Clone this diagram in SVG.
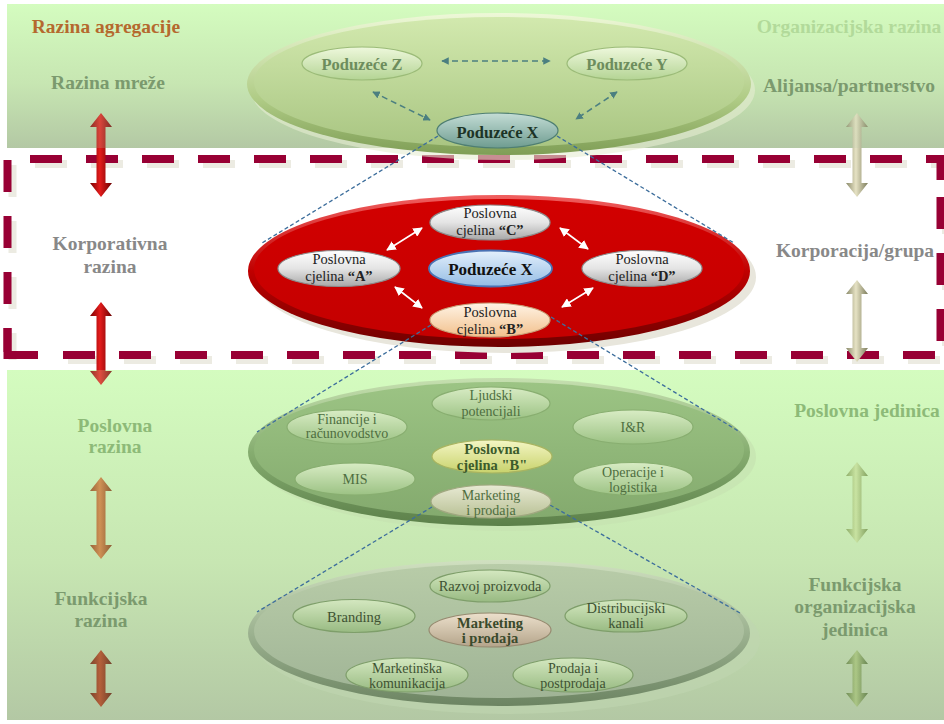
<svg xmlns="http://www.w3.org/2000/svg" width="944" height="724" viewBox="0 0 944 724">
  <defs>
    <linearGradient id="band" x1="0" y1="0" x2="0" y2="1">
      <stop offset="0" stop-color="#d4fcbf"/>
      <stop offset="0.55" stop-color="#c7e6b2"/>
      <stop offset="1" stop-color="#b3c8a4"/>
    </linearGradient>
    <!-- big ellipse rims and interiors -->
    <linearGradient id="topRim" x1="0" y1="0" x2="0" y2="1">
      <stop offset="0" stop-color="#eef8d8"/>
      <stop offset="0.6" stop-color="#b0cc86"/>
      <stop offset="1" stop-color="#7f9e56"/>
    </linearGradient>
    <linearGradient id="topFill" x1="0" y1="0" x2="0" y2="1">
      <stop offset="0" stop-color="#d2e9ae"/>
      <stop offset="1" stop-color="#a9c582"/>
    </linearGradient>
    <linearGradient id="redRim" x1="0" y1="0" x2="0" y2="1">
      <stop offset="0" stop-color="#f06060"/>
      <stop offset="0.5" stop-color="#c00000"/>
      <stop offset="1" stop-color="#6e0000"/>
    </linearGradient>
    <linearGradient id="redFill" x1="0" y1="0" x2="0" y2="1">
      <stop offset="0" stop-color="#d20000"/>
      <stop offset="1" stop-color="#c40000"/>
    </linearGradient>
    <linearGradient id="grnRim" x1="0" y1="0" x2="0" y2="1">
      <stop offset="0" stop-color="#c6e0b0"/>
      <stop offset="0.5" stop-color="#86ad70"/>
      <stop offset="1" stop-color="#5c804a"/>
    </linearGradient>
    <linearGradient id="grnFill" x1="0" y1="0" x2="0" y2="1">
      <stop offset="0" stop-color="#9cc484"/>
      <stop offset="1" stop-color="#84aa6e"/>
    </linearGradient>
    <linearGradient id="botRim" x1="0" y1="0" x2="0" y2="1">
      <stop offset="0" stop-color="#d0e0c0"/>
      <stop offset="0.5" stop-color="#9cb290"/>
      <stop offset="1" stop-color="#6c8462"/>
    </linearGradient>
    <linearGradient id="botFill" x1="0" y1="0" x2="0" y2="1">
      <stop offset="0" stop-color="#b8cca8"/>
      <stop offset="1" stop-color="#a0b496"/>
    </linearGradient>
    <!-- small node fills -->
    <linearGradient id="nTopG" x1="0" y1="0" x2="0" y2="1">
      <stop offset="0" stop-color="#eef8dc"/>
      <stop offset="1" stop-color="#b4d494"/>
    </linearGradient>
    <linearGradient id="nTeal" x1="0" y1="0" x2="0" y2="1">
      <stop offset="0" stop-color="#c4ddd6"/>
      <stop offset="1" stop-color="#6e9c90"/>
    </linearGradient>
    <linearGradient id="nGrey" x1="0" y1="0" x2="0" y2="1">
      <stop offset="0" stop-color="#ffffff"/>
      <stop offset="0.5" stop-color="#e4e4e4"/>
      <stop offset="1" stop-color="#a8a8a8"/>
    </linearGradient>
    <linearGradient id="nBlue" x1="0" y1="0" x2="0" y2="1">
      <stop offset="0" stop-color="#e4f0fc"/>
      <stop offset="1" stop-color="#94bce4"/>
    </linearGradient>
    <linearGradient id="nPeach" x1="0" y1="0" x2="0" y2="1">
      <stop offset="0" stop-color="#fff4e6"/>
      <stop offset="1" stop-color="#f2c08c"/>
    </linearGradient>
    <linearGradient id="nGreen" x1="0" y1="0" x2="0" y2="1">
      <stop offset="0" stop-color="#d8ecc4"/>
      <stop offset="1" stop-color="#9cc284"/>
    </linearGradient>
    <linearGradient id="nYellow" x1="0" y1="0" x2="0" y2="1">
      <stop offset="0" stop-color="#f4f6c4"/>
      <stop offset="1" stop-color="#c8d26c"/>
    </linearGradient>
    <linearGradient id="nTan" x1="0" y1="0" x2="0" y2="1">
      <stop offset="0" stop-color="#e8ead4"/>
      <stop offset="1" stop-color="#b8c094"/>
    </linearGradient>
    <linearGradient id="nGreen2" x1="0" y1="0" x2="0" y2="1">
      <stop offset="0" stop-color="#d4e8c0"/>
      <stop offset="1" stop-color="#98ba82"/>
    </linearGradient>
    <linearGradient id="nBrown" x1="0" y1="0" x2="0" y2="1">
      <stop offset="0" stop-color="#ece0cc"/>
      <stop offset="1" stop-color="#b4a48a"/>
    </linearGradient>
    <!-- side arrow fills -->
    <linearGradient id="aRed" x1="0" y1="0" x2="1" y2="0">
      <stop offset="0" stop-color="#7a0000"/>
      <stop offset="0.45" stop-color="#e41c1c"/>
      <stop offset="1" stop-color="#6a0000"/>
    </linearGradient>
    <linearGradient id="aOrange" x1="0" y1="0" x2="1" y2="0">
      <stop offset="0" stop-color="#8a3c14"/>
      <stop offset="0.45" stop-color="#d0783a"/>
      <stop offset="1" stop-color="#7a3410"/>
    </linearGradient>
    <linearGradient id="aDark" x1="0" y1="0" x2="1" y2="0">
      <stop offset="0" stop-color="#6a1c08"/>
      <stop offset="0.45" stop-color="#b4401c"/>
      <stop offset="1" stop-color="#5c1806"/>
    </linearGradient>
    <linearGradient id="aKhaki" x1="0" y1="0" x2="1" y2="0">
      <stop offset="0" stop-color="#8a8a6a"/>
      <stop offset="0.45" stop-color="#e6e2c4"/>
      <stop offset="1" stop-color="#7c7c5c"/>
    </linearGradient>
    <linearGradient id="aGreen" x1="0" y1="0" x2="1" y2="0">
      <stop offset="0" stop-color="#7e9c54"/>
      <stop offset="0.45" stop-color="#c8e09c"/>
      <stop offset="1" stop-color="#6e8c48"/>
    </linearGradient>
    <linearGradient id="aGreenD" x1="0" y1="0" x2="1" y2="0">
      <stop offset="0" stop-color="#5e7c40"/>
      <stop offset="0.45" stop-color="#a8c47c"/>
      <stop offset="1" stop-color="#52703a"/>
    </linearGradient>
    <marker id="tealHead" viewBox="0 0 10 10" refX="9" refY="5" markerWidth="5" markerHeight="5" orient="auto-start-reverse">
      <path d="M0,0 L10,5 L0,10 Z" fill="#4b7f80"/>
    </marker>
    <marker id="whiteHead" viewBox="0 0 10 10" refX="9" refY="5" markerWidth="6" markerHeight="6" orient="auto-start-reverse">
      <path d="M0,0 L10,5 L0,10 Z" fill="#ffffff"/>
    </marker>
  </defs>
  <style>
    .lbl { font-family: "Liberation Serif", "DejaVu Serif", serif; font-weight: bold; font-size: 19.5px; text-anchor: middle; }
    .nd { font-family: "Liberation Serif", "DejaVu Serif", serif; text-anchor: middle; }
    .n13 { font-size: 14px; }
    .n14 { font-size: 14.5px; }
    .b { font-weight: bold; }
    .nodeStroke { stroke-width: 1.2; }
    .dash { fill: none; stroke: #980034; stroke-width: 8; stroke-dasharray: 32 24; }
    .dashShadow { fill: none; stroke: #ecebe2; stroke-width: 8; stroke-dasharray: 32 24; }
    .zoom { fill: none; stroke: #3d6e9c; stroke-width: 1.3; stroke-dasharray: 4 2.5; }
    .teal { fill: none; stroke: #4b7f80; stroke-width: 1.5; stroke-dasharray: 6 4; marker-start: url(#tealHead); marker-end: url(#tealHead); }
    .white { fill: none; stroke: #ffffff; stroke-width: 1.6; marker-start: url(#whiteHead); marker-end: url(#whiteHead); }
  </style>

  <rect width="944" height="724" fill="#ffffff"/>

  <!-- level bands -->
  <rect id="band-top" x="7" y="4" width="937" height="144" fill="url(#band)"/>
  <rect id="band-bottom" x="7" y="370" width="937" height="350" fill="url(#band)"/>

  <!-- corporate frame (dashed) -->
  <g id="frame">
    <g transform="translate(5,5)">
      <line class="dashShadow" x1="30" y1="159" x2="940" y2="159"/>
      <line class="dashShadow" x1="941" y1="197" x2="941" y2="355"/>
      <line class="dashShadow" x1="7.5" y1="160" x2="7.5" y2="355"/>
      <line class="dashShadow" x1="63" y1="355" x2="940" y2="355"/>
    </g>
    <line class="dash" x1="30" y1="159" x2="944" y2="159"/>
    <path class="dash" d="M940.5,159 V180" style="stroke-dasharray:none"/>
    <line class="dash" x1="940.5" y1="197" x2="940.5" y2="352"/>
    <line class="dash" x1="7.5" y1="160" x2="7.5" y2="352"/>
    <path class="dash" d="M7.5,328 V355 H38" style="stroke-dasharray:none"/>
    <line class="dash" x1="63" y1="355" x2="944" y2="355"/>
  </g>

  <!-- vertical level arrows -->
  <g id="level-arrows">
    <path fill="url(#aRed)" d="M101,113 L112,127 L105.5,127 L105.5,183 L112,183 L101,197 L90,183 L96.5,183 L96.5,127 L90,127 Z"/>
    <path fill="url(#aRed)" d="M101,302 L112,316 L105.5,316 L105.5,371 L112,371 L101,385 L90,371 L96.5,371 L96.5,316 L90,316 Z"/>
    <path fill="url(#aOrange)" d="M101,477 L112,491 L105.5,491 L105.5,545 L112,545 L101,559 L90,545 L96.5,545 L96.5,491 L90,491 Z"/>
    <path fill="url(#aDark)" d="M101,650 L112,664 L105.5,664 L105.5,693 L112,693 L101,707 L90,693 L96.5,693 L96.5,664 L90,664 Z"/>
    <path fill="url(#aKhaki)" d="M857,113 L868,127 L861.5,127 L861.5,183 L868,183 L857,197 L846,183 L852.5,183 L852.5,127 L846,127 Z"/>
    <path fill="url(#aKhaki)" d="M857,280 L868,294 L861.5,294 L861.5,348 L868,348 L857,362 L846,348 L852.5,348 L852.5,294 L846,294 Z"/>
    <path fill="url(#aGreen)" d="M857,462 L868,476 L861.5,476 L861.5,529 L868,529 L857,543 L846,529 L852.5,529 L852.5,476 L846,476 Z"/>
    <path fill="url(#aGreenD)" d="M857,650 L868,664 L861.5,664 L861.5,693 L868,693 L857,707 L846,693 L852.5,693 L852.5,664 L846,664 Z"/>
  </g>

  <!-- light band tint over the arrow parts lying inside the bands -->
  <rect x="7" y="4" width="937" height="144" fill="url(#band)" opacity="0.22"/>
  <rect x="7" y="370" width="937" height="350" fill="url(#band)" opacity="0.22"/>

  <!-- network level ellipse -->
  <g id="network-level">
    <ellipse cx="503" cy="90" rx="252" ry="70" fill="#e6ecd2" opacity="0.6"/>
    <ellipse cx="499" cy="84" rx="252" ry="71" fill="url(#topRim)"/>
    <ellipse cx="499" cy="82" rx="245" ry="65" fill="url(#topFill)"/>
  </g>

  <!-- corporate level ellipse -->
  <g id="corporate-level">
    <ellipse cx="505" cy="277" rx="251" ry="76" fill="#e8e6dc"/>
    <ellipse cx="499" cy="271" rx="251" ry="76" fill="url(#redRim)"/>
    <ellipse cx="499" cy="269" rx="245" ry="70" fill="url(#redFill)"/>
  </g>

  <!-- business level ellipse -->
  <g id="business-level">
    <ellipse cx="505" cy="457" rx="251" ry="74" fill="#c6e2b0" opacity="0.7"/>
    <ellipse cx="499" cy="452" rx="251" ry="74" fill="url(#grnRim)"/>
    <ellipse cx="499" cy="450" rx="245" ry="68" fill="url(#grnFill)"/>
  </g>

  <!-- functional level ellipse -->
  <g id="functional-level">
    <ellipse cx="507" cy="640" rx="253" ry="74" fill="#c0d6b0" opacity="0.6"/>
    <ellipse cx="499" cy="633" rx="251" ry="73" fill="url(#botRim)"/>
    <ellipse cx="499" cy="631" rx="245" ry="67" fill="url(#botFill)"/>
  </g>

  <!-- connectors -->
  <g id="connectors">
    <line class="teal" x1="442" y1="61" x2="550" y2="61"/>
    <line class="teal" x1="373" y1="92" x2="430" y2="120"/>
    <line class="teal" x1="617" y1="92" x2="576" y2="119"/>
    <line class="zoom" x1="438" y1="136" x2="262" y2="243"/>
    <line class="zoom" x1="557" y1="136" x2="734" y2="243"/>
    <line class="white" x1="387" y1="250" x2="422" y2="228"/>
    <line class="white" x1="560" y1="228" x2="588" y2="249"/>
    <line class="white" x1="395" y1="287" x2="422" y2="308"/>
    <line class="white" x1="593" y1="288" x2="562" y2="307"/>
    <line class="zoom" x1="431" y1="325" x2="257" y2="432"/>
    <line class="zoom" x1="551" y1="317" x2="740" y2="432"/>
    <line class="zoom" x1="432" y1="507" x2="257" y2="612"/>
    <line class="zoom" x1="550" y1="505" x2="740" y2="613"/>
  </g>

  <!-- network level nodes -->
  <g id="poduzece-z">
    <ellipse cx="362" cy="63.5" rx="60" ry="16.5" fill="url(#nTopG)" stroke="#9bbb78" class="nodeStroke"/>
    <text class="nd b" x="362" y="70" font-size="16.5" fill="#6d8d5d">Poduzeće Z</text>
  </g>
  <g id="poduzece-y">
    <ellipse cx="627" cy="63.5" rx="60" ry="16.5" fill="url(#nTopG)" stroke="#9bbb78" class="nodeStroke"/>
    <text class="nd b" x="627" y="70" font-size="16.5" fill="#6d8d5d">Poduzeće Y</text>
  </g>
  <g id="poduzece-x-top">
    <ellipse cx="497.5" cy="130.5" rx="60.5" ry="17.5" fill="url(#nTeal)" stroke="#4e7e72" class="nodeStroke"/>
    <text class="nd b" x="497.5" y="137.5" font-size="16.5" fill="#1c3426">Poduzeće X</text>
  </g>

  <!-- corporate level nodes -->
  <g id="cjelina-c">
    <ellipse cx="490" cy="222.5" rx="60" ry="17.5" fill="url(#nGrey)" stroke="#8c8c8c" class="nodeStroke"/>
    <text class="nd n14" x="490" y="218" fill="#222">Poslovna</text>
    <text class="nd n14" x="490" y="235" fill="#222">cjelina <tspan class="b">“C”</tspan></text>
  </g>
  <g id="cjelina-a">
    <ellipse cx="339" cy="268.5" rx="61" ry="18" fill="url(#nGrey)" stroke="#8c8c8c" class="nodeStroke"/>
    <text class="nd n14" x="339" y="264" fill="#222">Poslovna</text>
    <text class="nd n14" x="339" y="281" fill="#222">cjelina <tspan class="b">“A”</tspan></text>
  </g>
  <g id="poduzece-x">
    <ellipse cx="490.5" cy="268.5" rx="61.5" ry="18" fill="url(#nBlue)" stroke="#4a72b4" stroke-width="1.8"/>
    <text class="nd b" x="490.5" y="274.5" font-size="17" fill="#111">Poduzeće X</text>
  </g>
  <g id="cjelina-d">
    <ellipse cx="642" cy="268.5" rx="60" ry="18" fill="url(#nGrey)" stroke="#8c8c8c" class="nodeStroke"/>
    <text class="nd n14" x="642" y="264" fill="#222">Poslovna</text>
    <text class="nd n14" x="642" y="281" fill="#222">cjelina <tspan class="b">“D”</tspan></text>
  </g>
  <g id="cjelina-b">
    <ellipse cx="490" cy="320" rx="60" ry="17" fill="url(#nPeach)" stroke="#c8a078" class="nodeStroke"/>
    <text class="nd n14" x="490" y="317" fill="#222">Poslovna</text>
    <text class="nd n14" x="490" y="334" fill="#222">cjelina <tspan class="b">“B”</tspan></text>
  </g>

  <!-- business level nodes -->
  <g id="ljudski-potencijali">
    <ellipse cx="491" cy="403.5" rx="59" ry="16.5" fill="url(#nGreen)" stroke="#88ae70" class="nodeStroke"/>
    <text class="nd n13" x="491" y="400" fill="#4e6e40">Ljudski</text>
    <text class="nd n13" x="491" y="416" fill="#4e6e40">potencijali</text>
  </g>
  <g id="financije">
    <ellipse cx="347" cy="427" rx="60" ry="17" fill="url(#nGreen)" stroke="#88ae70" class="nodeStroke"/>
    <text class="nd n13" x="347" y="424" fill="#4e6e40">Financije i</text>
    <text class="nd n13" x="347" y="438" fill="#4e6e40">računovodstvo</text>
  </g>
  <g id="i-r">
    <ellipse cx="633" cy="427" rx="60" ry="17" fill="url(#nGreen)" stroke="#88ae70" class="nodeStroke"/>
    <text class="nd n13" x="633" y="432" fill="#4e6e40">I&amp;R</text>
  </g>
  <g id="poslovna-cjelina-b">
    <ellipse cx="492" cy="456.5" rx="60" ry="16.5" fill="url(#nYellow)" stroke="#a8b460" class="nodeStroke"/>
    <text class="nd n14 b" x="492" y="454" fill="#3c5c2c">Poslovna</text>
    <text class="nd n14 b" x="492" y="470" fill="#3c5c2c">cjelina "B"</text>
  </g>
  <g id="mis">
    <ellipse cx="355" cy="479" rx="60" ry="16" fill="url(#nGreen)" stroke="#88ae70" class="nodeStroke"/>
    <text class="nd n13" x="355" y="484" fill="#4e6e40">MIS</text>
  </g>
  <g id="operacije">
    <ellipse cx="633" cy="479" rx="60" ry="16.5" fill="url(#nGreen)" stroke="#88ae70" class="nodeStroke"/>
    <text class="nd n13" x="633" y="477" fill="#4e6e40">Operacije i</text>
    <text class="nd n13" x="633" y="492" fill="#4e6e40">logistika</text>
  </g>
  <g id="marketing-prodaja-b">
    <ellipse cx="491" cy="501.5" rx="60" ry="16.5" fill="url(#nTan)" stroke="#a0a880" class="nodeStroke"/>
    <text class="nd n13" x="491" y="500" fill="#4e6e40">Marketing</text>
    <text class="nd n13" x="491" y="515" fill="#4e6e40">i prodaja</text>
  </g>

  <!-- functional level nodes -->
  <g id="razvoj-proizvoda">
    <ellipse cx="490" cy="586" rx="60" ry="16" fill="url(#nGreen2)" stroke="#7e9e6a" class="nodeStroke"/>
    <text class="nd n14" x="490" y="591" fill="#3e5232">Razvoj proizvoda</text>
  </g>
  <g id="branding">
    <ellipse cx="354" cy="616" rx="61" ry="16.5" fill="url(#nGreen2)" stroke="#7e9e6a" class="nodeStroke"/>
    <text class="nd n14" x="354" y="622" fill="#3e5232">Branding</text>
  </g>
  <g id="distribucijski-kanali">
    <ellipse cx="626" cy="616" rx="61" ry="16" fill="url(#nGreen2)" stroke="#7e9e6a" class="nodeStroke"/>
    <text class="nd n14" x="626" y="613" fill="#3e5232">Distribucijski</text>
    <text class="nd n14" x="626" y="628" fill="#3e5232">kanali</text>
  </g>
  <g id="marketing-prodaja">
    <ellipse cx="490" cy="630" rx="61" ry="17" fill="url(#nBrown)" stroke="#968a70" class="nodeStroke"/>
    <text class="nd n14 b" x="490" y="628" fill="#3a4a2c">Marketing</text>
    <text class="nd n14 b" x="490" y="643" fill="#3a4a2c">i prodaja</text>
  </g>
  <g id="marketinska-komunikacija">
    <ellipse cx="407" cy="675" rx="61" ry="17" fill="url(#nGreen2)" stroke="#7e9e6a" class="nodeStroke"/>
    <text class="nd n13" x="407" y="673" fill="#3e5232">Marketinška</text>
    <text class="nd n13" x="407" y="688" fill="#3e5232">komunikacija</text>
  </g>
  <g id="prodaja-postprodaja">
    <ellipse cx="573" cy="675" rx="60" ry="17" fill="url(#nGreen2)" stroke="#7e9e6a" class="nodeStroke"/>
    <text class="nd n13" x="573" y="673" fill="#3e5232">Prodaja i</text>
    <text class="nd n13" x="573" y="688" fill="#3e5232">postprodaja</text>
  </g>

  <!-- side labels -->
  <g id="labels-left">
    <text class="lbl" x="106" y="33" fill="#b5692e">Razina agregacije</text>
    <text class="lbl" x="108" y="89" fill="#7b9a6e">Razina mreže</text>
    <text class="lbl" x="110" y="250" fill="#888888">Korporativna</text>
    <text class="lbl" x="110" y="273" fill="#888888">razina</text>
    <text class="lbl" x="115" y="432" fill="#8dba78">Poslovna</text>
    <text class="lbl" x="115" y="453" fill="#8dba78">razina</text>
    <text class="lbl" x="101" y="605" fill="#7b9a6e">Funkcijska</text>
    <text class="lbl" x="101" y="627" fill="#7b9a6e">razina</text>
  </g>
  <g id="labels-right">
    <text class="lbl" x="849" y="33" fill="#b2da9a">Organizacijska razina</text>
    <text class="lbl" x="849" y="92" fill="#7b9a6e">Alijansa/partnerstvo</text>
    <text class="lbl" x="855" y="257" fill="#888888">Korporacija/grupa</text>
    <text class="lbl" x="867" y="417" fill="#8dba78">Poslovna jedinica</text>
    <text class="lbl" x="855" y="591" fill="#7b9a6e">Funkcijska</text>
    <text class="lbl" x="855" y="613" fill="#7b9a6e">organizacijska</text>
    <text class="lbl" x="855" y="636" fill="#7b9a6e">jedinica</text>
  </g>
</svg>
